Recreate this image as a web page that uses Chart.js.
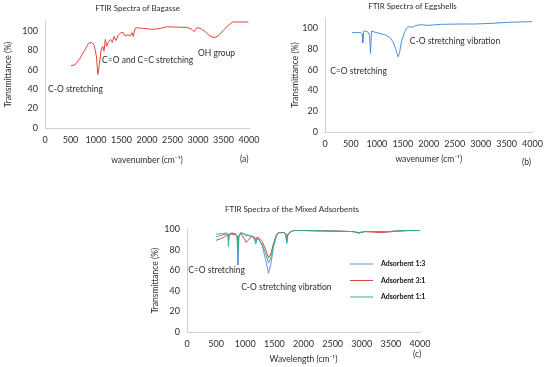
<!DOCTYPE html>
<html>
<head>
<meta charset="utf-8">
<script src="https://cdn.jsdelivr.net/npm/chart.js@4.4.1/dist/chart.umd.min.js"></script>
<style>
html, body { margin: 0; padding: 0; background: #fff; }
#wrap { position: relative; width: 550px; height: 367px; overflow: hidden; }
#wrap canvas { position: absolute; }
.tag { position: absolute; font: 8.5px Lato, sans-serif; color: #2e2e2e; }
</style>
</head>
<body>
<div id="wrap">
  <canvas id="chart-a" width="275" height="170" style="left:0;top:0"></canvas>
  <canvas id="chart-b" width="275" height="170" style="left:275px;top:0"></canvas>
  <canvas id="chart-c" width="324" height="172" style="left:130px;top:195px"></canvas>
  <div class="tag" style="left:240px;top:154px">(a)</div>
  <div class="tag" style="left:522px;top:157px">(b)</div>
  <div class="tag" style="left:413px;top:349px">(c)</div>
</div>
<script>
/* ===== Data ===== */
const bagasseWn = [510, 590, 690, 780, 850, 915, 965, 1010, 1035, 1060, 1100, 1130, 1157, 1183, 1210, 1248, 1288, 1320, 1353, 1392, 1438, 1484, 1536, 1575, 1627, 1667, 1706, 1732, 1758, 1784, 1930, 2120, 2260, 2390, 2780, 2880, 2925, 2975, 3040, 3140, 3235, 3320, 3400, 3500, 3600, 3680, 3990];
const bagasseT  = [64, 65, 72, 80, 87, 88, 85, 73, 55, 63, 80, 84, 79, 91, 84, 89, 91, 88, 94, 90, 95.5, 98, 98, 94.5, 96, 94.5, 98, 94, 101, 103, 102.4, 101.4, 102.4, 104, 103.4, 101.4, 99, 103, 102.7, 99, 94.5, 92.8, 95, 100.7, 105.8, 109, 109];

const eggWn = [525, 690, 717, 730, 742, 780, 832, 858, 877, 896, 960, 1150, 1250, 1310, 1360, 1408, 1435, 1472, 1536, 1587, 1650, 1696, 1728, 1792, 1856, 1984, 2240, 2620, 2880, 3200, 3520, 4000];
const eggT  = [96, 95.8, 94.5, 86, 96.8, 97.4, 96.3, 93.5, 75.8, 97.4, 96.3, 93.9, 91.3, 87, 80.6, 72.6, 75.8, 87, 96.8, 101, 101.6, 101, 102.3, 103.2, 103.5, 102.9, 103.9, 104.2, 104.2, 104.8, 105.8, 106.5];

const mixWn = [500, 600, 680, 700, 712, 725, 760, 830, 860, 875, 890, 920, 980, 1014, 1060, 1110, 1160, 1180, 1200, 1230, 1290, 1350, 1400, 1440, 1490, 1540, 1580, 1660, 1695, 1713, 1730, 1770, 1830, 2000, 2500, 2850, 2950, 3050, 3200, 3320, 3450, 3600, 3800, 4000];
const mix13 = [95, 95.5, 96, 95, 90, 95, 96, 95.5, 93, 65, 93, 96.5, 95.5, 94.5, 94, 93, 91, 88, 91, 90, 84, 70, 57, 66, 84, 94, 96.5, 96.5, 95, 87, 94, 97, 98.5, 98.5, 98, 97.5, 96, 97.5, 97.5, 97.5, 97.5, 98, 98.5, 98.5];
const mix31 = [89, 91, 94, 94.5, 93, 94.5, 95, 94.5, 93, 88, 93, 95.5, 91, 87, 89.5, 93, 92, 90, 92, 91.5, 88, 80, 72, 76, 87, 95, 96.5, 96.5, 95.5, 90, 95, 97, 98.5, 98.5, 98, 97.5, 96.5, 97.5, 97, 96.5, 97, 98, 98.5, 98.5];
const mix11 = [92.5, 94, 95.5, 95, 83, 95, 96, 95.5, 93, 79, 93, 96, 95, 93.5, 93.5, 93, 90, 85.5, 90, 90, 85, 76, 67, 72, 86, 94.5, 96.5, 96.5, 95, 86, 94, 97, 98.5, 98.5, 98, 97.5, 96, 97.5, 97.5, 97.5, 97.5, 98, 98.5, 98.5];
const mixLabels = ['Adsorbent 1:3', 'Adsorbent 3:1', 'Adsorbent 1:1'];

const TEXT = '#2e2e2e';
const FONT = 'Lato, sans-serif';

const pts = (xs, ys) => xs.map((x, i) => ({ x, y: ys[i] }));

/* ===== small plugins: panel title, free text, side legend ===== */
const panelTitle = {
    id: 'panelTitle',
    afterDraw(chart, args, opts) {
        const ctx = chart.ctx;
        ctx.save();
        ctx.font = '8px ' + FONT;
        ctx.fillStyle = TEXT;
        ctx.textAlign = 'center';
        ctx.textBaseline = 'middle';
        ctx.fillText(opts.text, chart.width / 2, opts.y);
        ctx.restore();
    }
};

const textNotes = {
    id: 'textNotes',
    afterDatasetsDraw(chart, args, opts) {
        const { ctx, scales: { x, y } } = chart;
        ctx.save();
        ctx.font = '8.5px ' + FONT;
        ctx.fillStyle = TEXT;
        ctx.textBaseline = 'middle';
        (opts.items || []).forEach(n => ctx.fillText(n.text, x.getPixelForValue(n.x), y.getPixelForValue(n.y)));
        ctx.restore();
    }
};

const sideLegend = {
    id: 'sideLegend',
    afterDraw(chart, args, opts) {
        if (!opts.show) return;
        const ctx = chart.ctx;
        ctx.save();
        ctx.font = 'bold 7px ' + FONT;
        ctx.textBaseline = 'middle';
        chart.data.datasets.forEach((ds, i) => {
            const yy = opts.y + i * opts.gap;
            ctx.strokeStyle = ds.borderColor;
            ctx.lineWidth = 1;
            ctx.beginPath();
            ctx.moveTo(opts.x, yy);
            ctx.lineTo(opts.x + 23, yy);
            ctx.stroke();
            ctx.fillStyle = '#111';
            ctx.fillText(ds.label, opts.x + 31, yy);
        });
        ctx.restore();
    }
};

function scalesFor(cfg) {
    return {
        x: {
            type: 'linear', min: 0, max: 4000,
            grid: { display: false, drawTicks: false },
            border: { display: true, color: '#cfcfcf' },
            ticks: { stepSize: 500, padding: 7, color: TEXT, font: { family: FONT, size: 9 }, maxRotation: 0, autoSkip: false, callback: v => String(v) },
            title: { display: true, text: cfg.xTitle, color: TEXT, font: { family: FONT, size: 8.5 }, padding: { top: 0, bottom: cfg.xTitlePad } },
            afterFit: ax => { ax.height = cfg.xHeight; }
        },
        y: {
            min: 0, max: cfg.yMax,
            grid: { display: false, drawTicks: false },
            border: { display: true, color: '#cfcfcf' },
            ticks: { stepSize: 20, includeBounds: false, autoSkip: false, padding: 7, color: TEXT, font: { family: FONT, size: 9 } },
            title: { display: true, text: 'Transmittance (%)', color: TEXT, font: { family: FONT, size: 8.5 }, padding: { top: cfg.yTitlePad, bottom: 0 } },
            afterFit: ax => { ax.width = cfg.yWidth; }
        }
    };
}

function makeChart(id, datasets, cfg) {
    return new Chart(document.getElementById(id), {
        type: 'line',
        data: { datasets },
        plugins: [panelTitle, textNotes, sideLegend],
        options: {
            responsive: false,
            animation: false,
            layout: { padding: { left: 0, right: cfg.right, top: cfg.top, bottom: 0 } },
            elements: { point: { radius: 0 }, line: { borderWidth: 1, tension: 0 } },
            plugins: {
                legend: { display: false },
                tooltip: { enabled: false },
                title: { display: false },
                panelTitle: { text: cfg.title, y: cfg.titleY },
                textNotes: { items: cfg.notes },
                sideLegend: cfg.legend || { show: false }
            },
            scales: scalesFor(cfg)
        }
    });
}

/* (a) Bagasse */
makeChart('chart-a', [
    { label: 'Bagasse', data: pts(bagasseWn, bagasseT), borderColor: '#e8413c' }
], {
    title: 'FTIR Spectra of Bagasse', titleY: 8, top: 21,
    xTitle: 'wavenumber (cm\u207B\u00B9)', xTitlePad: 4.9, xHeight: 42,
    yMax: 110, yWidth: 45, yTitlePad: 3, right: 26,
    notes: [
        { text: 'C-O stretching', x: 60, y: 40 },
        { text: 'C=O and C=C stretching', x: 1120, y: 70 },
        { text: 'OH group', x: 3000, y: 77 }
    ]
});

/* (b) Eggshells */
makeChart('chart-b', [
    { label: 'Eggshells', data: pts(eggWn, eggT), borderColor: '#4a90d9' }
], {
    title: 'FTIR Spectra of Eggshells', titleY: 6, top: 18,
    xTitle: 'wavenumer (cm\u207B\u00B9)', xTitlePad: 5.9, xHeight: 38,
    yMax: 110, yWidth: 50, yTitlePad: 15, right: 17,
    notes: [
        { text: 'C=O stretching', x: 100, y: 59 },
        { text: 'C-O stretching vibration', x: 1635, y: 87.5 }
    ]
});

/* (c) Mixed adsorbents */
makeChart('chart-c', [
    { label: mixLabels[0], data: pts(mixWn, mix13), borderColor: '#6b93d6', order: 2 },
    { label: mixLabels[1], data: pts(mixWn, mix31), borderColor: '#e0463f', order: 1 },
    { label: mixLabels[2], data: pts(mixWn, mix11), borderColor: '#2db38a', order: 0 }
], {
    title: 'FTIR Spectra of the Mixed Adsorbents', titleY: 14, top: 34,
    xTitle: 'Wavelength (cm\u207B\u00B9)', xTitlePad: 2.9, xHeight: 35,
    yMax: 100, yWidth: 57, yTitlePad: 20, right: 34,
    notes: [
        { text: 'C=O stretching', x: 20, y: 59.5 },
        { text: 'C-O stretching vibration', x: 930, y: 43 }
    ],
    legend: { show: true, x: 220, y: 69, gap: 16.5 }
});
</script>
</body>
</html>
